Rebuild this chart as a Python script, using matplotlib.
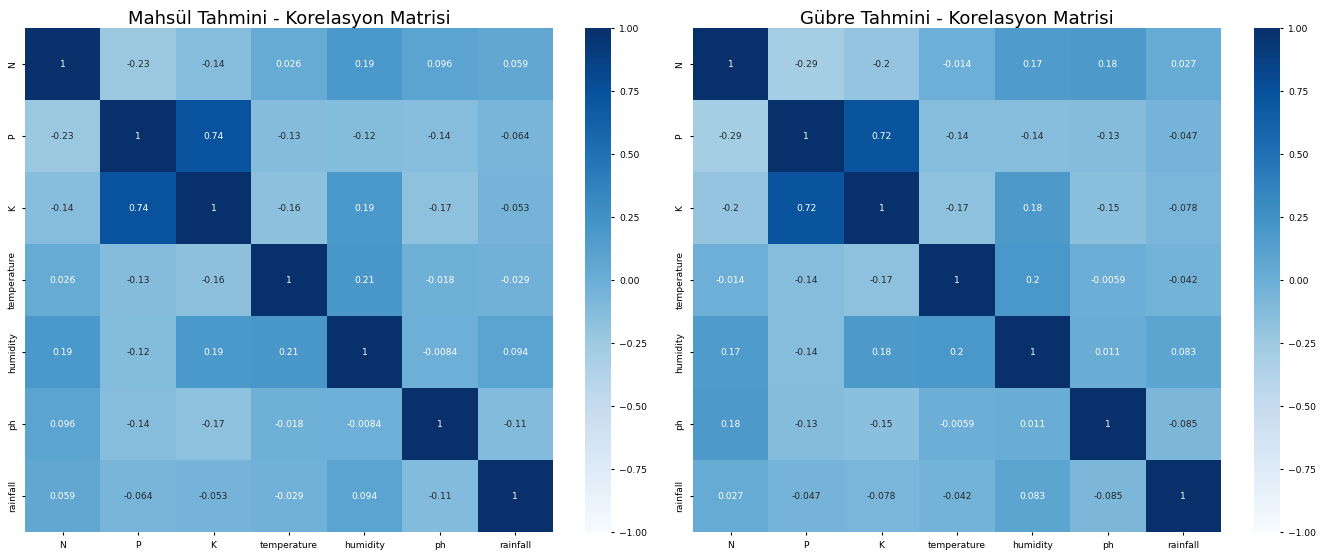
import numpy as np
import pandas as pd
import matplotlib
matplotlib.use("Agg")
import matplotlib.pyplot as plt
import seaborn as sns

features = ["N", "P", "K", "temperature", "humidity", "ph", "rainfall"]

# korelasyon katsayilari (mahsul veri seti)
crop_corr = [
    [1, -0.23, -0.14, 0.026, 0.19, 0.096, 0.059],
    [-0.23, 1, 0.74, -0.13, -0.12, -0.14, -0.064],
    [-0.14, 0.74, 1, -0.16, 0.19, -0.17, -0.053],
    [0.026, -0.13, -0.16, 1, 0.21, -0.018, -0.029],
    [0.19, -0.12, 0.19, 0.21, 1, -0.0084, 0.094],
    [0.096, -0.14, -0.17, -0.018, -0.0084, 1, -0.11],
    [0.059, -0.064, -0.053, -0.029, 0.094, -0.11, 1],
]

# korelasyon katsayilari (gubre veri seti)
fert_corr = [
    [1, -0.29, -0.2, -0.014, 0.17, 0.18, 0.027],
    [-0.29, 1, 0.72, -0.14, -0.14, -0.13, -0.047],
    [-0.2, 0.72, 1, -0.17, 0.18, -0.15, -0.078],
    [-0.014, -0.14, -0.17, 1, 0.2, -0.0059, -0.042],
    [0.17, -0.14, 0.18, 0.2, 1, 0.011, 0.083],
    [0.18, -0.13, -0.15, -0.0059, 0.011, 1, -0.085],
    [0.027, -0.047, -0.078, -0.042, 0.083, -0.085, 1],
]

titles = ["Mahsül Tahmini - Korelasyon Matrisi", "Gübre Tahmini - Korelasyon Matrisi"]
cbar_ticks = [1, 0.75, 0.5, 0.25, 0, -0.25, -0.5, -0.75, -1]

fs = 6.6

fig = plt.figure(figsize=(13.28, 5.52), dpi=100)

# eksen yerlesimi: [sol, alt, genislik, yukseklik]
hm_pos = [[0.0188, 0.0357, 0.3976, 0.913], [0.5218, 0.0357, 0.3976, 0.913]]
cb_pos = [[0.4405, 0.0357, 0.0196, 0.913], [0.9443, 0.0357, 0.0196, 0.913]]

for i, corr in enumerate([crop_corr, fert_corr]):
    df = pd.DataFrame(corr, index=features, columns=features)
    ax = fig.add_axes(hm_pos[i])
    cax = fig.add_axes(cb_pos[i])
    sns.heatmap(df, annot=True, cmap="Blues", vmin=-1, vmax=1,
                annot_kws={"size": fs}, ax=ax, cbar_ax=cax)
    ax.set_title(titles[i], fontsize=13, pad=3)
    ax.tick_params(labelsize=fs, length=2.5)
    plt.setp(ax.get_xticklabels(), rotation=0)
    plt.setp(ax.get_yticklabels(), rotation=90, va="center")
    cax.tick_params(labelsize=fs, length=2.5)
    cax.yaxis.set_ticks(cbar_ticks)
    cax.set_yticklabels([f"{v:.2f}".replace("-", "\u2212") for v in cbar_ticks])

fig.savefig("out.png", dpi=100)
